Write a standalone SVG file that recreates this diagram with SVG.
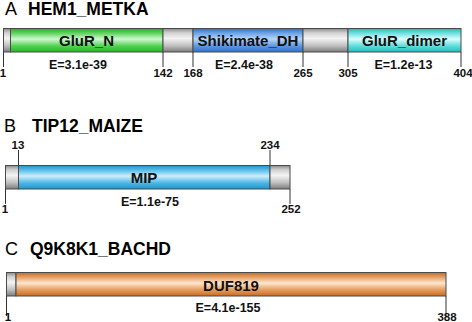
<svg xmlns="http://www.w3.org/2000/svg" width="472" height="322" viewBox="0 0 472 322">
<defs>
<linearGradient id="gGray" x1="0" y1="0" x2="0" y2="1">
<stop offset="0" stop-color="#8a8a8a"/><stop offset="0.18" stop-color="#cfcfcf"/><stop offset="0.42" stop-color="#f4f4f4"/><stop offset="0.72" stop-color="#c2c2c2"/><stop offset="1" stop-color="#7c7c7c"/>
</linearGradient>
<linearGradient id="gGreen" x1="0" y1="0" x2="0" y2="1">
<stop offset="0" stop-color="#2aa82a"/><stop offset="0.2" stop-color="#5fd45f"/><stop offset="0.45" stop-color="#d2f7d2"/><stop offset="0.75" stop-color="#4fd24f"/><stop offset="1" stop-color="#28b428"/>
</linearGradient>
<linearGradient id="gBlue" x1="0" y1="0" x2="0" y2="1">
<stop offset="0" stop-color="#2f6fc0"/><stop offset="0.2" stop-color="#6ea4e6"/><stop offset="0.45" stop-color="#b8d6f6"/><stop offset="0.75" stop-color="#5b97e0"/><stop offset="1" stop-color="#2f72c8"/>
</linearGradient>
<linearGradient id="gCyan" x1="0" y1="0" x2="0" y2="1">
<stop offset="0" stop-color="#25b5b5"/><stop offset="0.2" stop-color="#6ee0e0"/><stop offset="0.45" stop-color="#dcfcfc"/><stop offset="0.75" stop-color="#5cdcdc"/><stop offset="1" stop-color="#26bcbc"/>
</linearGradient>
<linearGradient id="gMip" x1="0" y1="0" x2="0" y2="1">
<stop offset="0" stop-color="#1f93cc"/><stop offset="0.2" stop-color="#5cbde8"/><stop offset="0.45" stop-color="#cdeefc"/><stop offset="0.75" stop-color="#4ab6e6"/><stop offset="1" stop-color="#1e96d0"/>
</linearGradient>
<linearGradient id="gOrange" x1="0" y1="0" x2="0" y2="1">
<stop offset="0" stop-color="#c86a22"/><stop offset="0.2" stop-color="#e6a064"/><stop offset="0.45" stop-color="#fde6cf"/><stop offset="0.75" stop-color="#e59a58"/><stop offset="1" stop-color="#c86c24"/>
</linearGradient>
</defs>
<style>
.title{font-family:"Liberation Sans",Arial,sans-serif;font-size:17.5px;font-weight:bold;fill:#000}
.letter{font-family:"Liberation Sans",Arial,sans-serif;font-size:18px;font-weight:normal;fill:#000}
.dom{font-family:"Liberation Sans",Arial,sans-serif;font-size:15px;font-weight:bold;fill:#111;text-anchor:middle}
.ev{font-family:"Liberation Sans",Arial,sans-serif;font-size:12.5px;font-weight:bold;fill:#111;text-anchor:middle}
.num{font-family:"Liberation Sans",Arial,sans-serif;font-size:11.5px;font-weight:bold;fill:#111;text-anchor:middle}
.seg{stroke:#4a4a4a;stroke-width:1}
.tick{stroke:#333;stroke-width:1;fill:none}
</style>

<g id="panelA">
<text class="letter" x="5" y="15">A</text>
<text class="title" x="28" y="15">HEM1_METKA</text>
<g id="A-bar">
<rect class="seg" x="3.5" y="28.5" width="7" height="23.5" fill="url(#gGray)"/>
<rect class="seg" x="10.5" y="28.5" width="152.5" height="23.5" fill="url(#gGreen)"/>
<rect class="seg" x="163" y="28.5" width="30" height="23.5" fill="url(#gGray)"/>
<rect class="seg" x="193" y="28.5" width="110" height="23.5" fill="url(#gBlue)"/>
<rect class="seg" x="303" y="28.5" width="45" height="23.5" fill="url(#gGray)"/>
<rect class="seg" x="348" y="28.5" width="113" height="23.5" fill="url(#gCyan)"/>
</g>
<text class="dom" x="86.5" y="46">GluR_N</text>
<text class="dom" x="248" y="46">Shikimate_DH</text>
<text class="dom" x="404.5" y="46">GluR_dimer</text>
<text class="ev" x="78" y="69">E=3.1e-39</text>
<text class="ev" x="244" y="69">E=2.4e-38</text>
<text class="ev" x="403.5" y="69">E=1.2e-13</text>
<g id="A-ticks">
<path class="tick" d="M3.5 52V67M163 52V67M193 52V67M303 52V67M348 52V67M461 52V67"/>
</g>
<text class="num" x="3" y="77">1</text>
<text class="num" x="163" y="77">142</text>
<text class="num" x="193" y="77">168</text>
<text class="num" x="303" y="77">265</text>
<text class="num" x="348" y="77">305</text>
<text class="num" x="463" y="77">404</text>
</g>

<g id="panelB">
<text class="letter" x="4" y="132">B</text>
<text class="title" x="32" y="132">TIP12_MAIZE</text>
<g id="B-bar">
<rect class="seg" x="5.5" y="165.5" width="13" height="23.5" fill="url(#gGray)"/>
<rect class="seg" x="18.5" y="165.5" width="251.5" height="23.5" fill="url(#gMip)"/>
<rect class="seg" x="270" y="165.5" width="20" height="23.5" fill="url(#gGray)"/>
</g>
<text class="dom" x="144" y="183">MIP</text>
<text class="ev" x="150" y="206">E=1.1e-75</text>
<g id="B-ticks">
<path class="tick" d="M18.5 150V165.5M270 150V165.5M5.5 189V204M290 189V204"/>
</g>
<text class="num" x="18" y="149">13</text>
<text class="num" x="270" y="149">234</text>
<text class="num" x="5" y="213">1</text>
<text class="num" x="291" y="213">252</text>
</g>

<g id="panelC">
<text class="letter" x="5" y="255">C</text>
<text class="title" x="30" y="255">Q9K8K1_BACHD</text>
<g id="C-bar">
<rect class="seg" x="6.5" y="272.5" width="9.5" height="23.5" fill="url(#gGray)"/>
<rect class="seg" x="16" y="272.5" width="430" height="23.5" fill="url(#gOrange)"/>
</g>
<text class="dom" x="231" y="291">DUF819</text>
<text class="ev" x="228" y="312">E=4.1e-155</text>
<g id="C-ticks">
<path class="tick" d="M6.5 296V316M446 296V316"/>
</g>
<text class="num" x="8" y="321">1</text>
<text class="num" x="447" y="321">388</text>
</g>
</svg>
